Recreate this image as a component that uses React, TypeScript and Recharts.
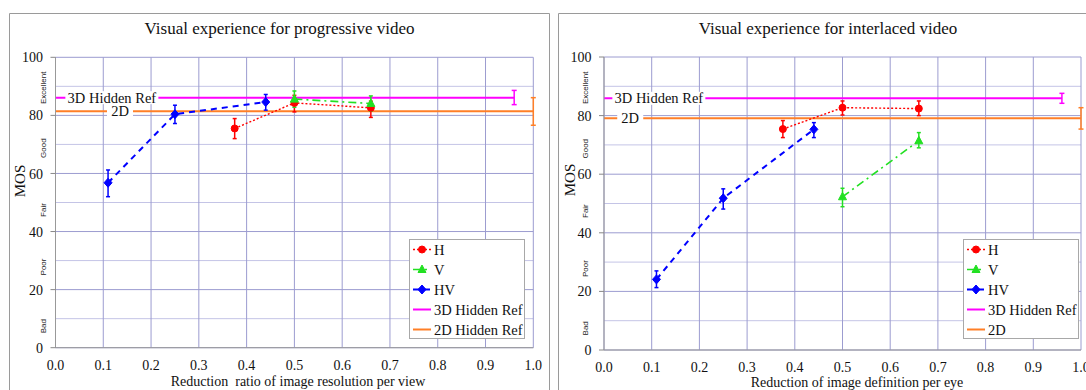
import React from 'react';
import {
  ComposedChart,
  Line,
  XAxis,
  YAxis,
  CartesianGrid,
  ErrorBar,
  ReferenceDot,
  Legend,
  LabelList,
} from 'recharts';

const SERIF = '"Liberation Serif", "Times New Roman", serif';
const SANS = '"Liberation Sans", Arial, sans-serif';

// ---------- axes ----------
const X_TICKS = [0, 0.1, 0.2, 0.3, 0.4, 0.5, 0.6, 0.7, 0.8, 0.9, 1.0];
const Y_MAJOR = [0, 20, 40, 60, 80, 100];
const Y_MINOR = [10, 30, 50, 70, 90];
const QUALITY_LABELS = ['Excellent', 'Good', 'Fair', 'Poor', 'Bad'];
const QUALITY_VALUES = [89.5, 68.7, 47.4, 27.8, 7.4];

// ---------- progressive video ----------
const PROG_TITLE = 'Visual experience for progressive video';
const PROG_XLABEL = 'Reduction  ratio of image resolution per view';
const PROG_LEGEND = ['H', 'V', 'HV', '3D Hidden Ref', '2D Hidden Ref'];

const PROG_H_X = [0.375, 0.5, 0.66];
const PROG_H_MOS = [75.5, 84.3, 82.6];
const PROG_H_LOW = [72.0, 81.2, 79.3];
const PROG_H_HIGH = [78.9, 86.9, 84.9];

const PROG_V_X = [0.5, 0.66];
const PROG_V_MOS = [85.6, 84.1];
const PROG_V_LOW = [82.8, 81.5];
const PROG_V_HIGH = [88.4, 86.7];

const PROG_HV_X = [0.11, 0.25, 0.44];
const PROG_HV_MOS = [56.8, 80.4, 84.6];
const PROG_HV_LOW = [52.0, 77.2, 81.8];
const PROG_HV_HIGH = [61.2, 83.5, 87.2];

// [mos, low, high, end x, label x]
const PROG_REF3D = [86.1, 83.7, 88.6, 0.96, 0.118];
const PROG_REF2D = [81.4, 76.6, 86.1, 1.0, 0.135];

// ---------- interlaced video ----------
const INT_TITLE = 'Visual experience for interlaced video';
const INT_XLABEL = 'Reduction of image definition per eye';
const INT_LEGEND = ['H', 'V', 'HV', '3D Hidden Ref', '2D'];

const INT_H_X = [0.375, 0.5, 0.66];
const INT_H_MOS = [75.4, 82.7, 82.4];
const INT_H_LOW = [72.5, 80.2, 80.0];
const INT_H_HIGH = [78.3, 85.0, 85.0];

const INT_V_X = [0.5, 0.66];
const INT_V_MOS = [52.3, 71.4];
const INT_V_LOW = [48.9, 69.0];
const INT_V_HIGH = [55.2, 74.2];

const INT_HV_X = [0.11, 0.25, 0.44];
const INT_HV_MOS = [24.1, 51.8, 75.3];
const INT_HV_LOW = [21.3, 48.1, 72.5];
const INT_HV_HIGH = [27.0, 55.0, 77.6];

const INT_REF3D = [85.9, 84.2, 87.6, 0.96, 0.115];
const INT_REF2D = [79.1, 75.4, 82.7, 1.0, 0.055];

// ---------- colours ----------
const RED = '#ff0000';
const GREEN = '#22e022';
const BLUE = '#0000ff';
const MAGENTA = '#ff00ff';
const ORANGE = '#ff7f27';

type Row = { x: number; y: number; err?: [number, number]; label?: string };

const seriesRows = (xs: number[], ys: number[], lo: number[], hi: number[]): Row[] =>
  xs.map((x, i) => ({
    x,
    y: ys[i],
    err: [+(ys[i] - lo[i]).toFixed(2), +(hi[i] - ys[i]).toFixed(2)],
  }));

const refRows = (ref: number[], label: string): Row[] => [
  { x: 0, y: ref[0] },
  { x: ref[4], y: ref[0], label },
  { x: ref[3], y: ref[0], err: [+(ref[0] - ref[1]).toFixed(2), +(ref[2] - ref[0]).toFixed(2)] },
];

type MarkerType = 'circle' | 'triangle' | 'diamond' | 'none';

function marker(type: MarkerType, color: string, cx: number, cy: number, key: string) {
  if (cx == null || cy == null) return <g key={key} />;
  if (type === 'circle') return <circle key={key} cx={cx} cy={cy} r={3.5} fill={color} stroke={color} />;
  if (type === 'triangle')
    return (
      <path key={key} d={`M${cx},${cy - 4.5}L${cx + 4},${cy + 3}L${cx - 4},${cy + 3}Z`} fill={color} stroke={color} />
    );
  if (type === 'diamond')
    return (
      <path key={key} d={`M${cx},${cy - 4.5}L${cx + 4},${cy}L${cx},${cy + 4.5}L${cx - 4},${cy}Z`} fill={color} stroke={color} />
    );
  return <g key={key} />;
}

const SERIES_STYLE = [
  { color: RED, dash: '2 2', width: 1.4, marker: 'circle' as MarkerType },
  { color: GREEN, dash: '8 4 2 4', width: 1.6, marker: 'triangle' as MarkerType },
  { color: BLUE, dash: '6 5', width: 2, marker: 'diamond' as MarkerType },
  { color: MAGENTA, dash: '', width: 2, marker: 'none' as MarkerType },
  { color: ORANGE, dash: '', width: 2, marker: 'none' as MarkerType },
];

const REF_BOX_W: Record<string, number> = { '3D Hidden Ref': 93, '2D': 26 };

const renderRefLabel = (props: any) => {
  const value = props.value;
  if (!value) return null;
  const x = props.x ?? props.viewBox?.x;
  const y = props.y ?? props.viewBox?.y;
  if (x == null || y == null) return null;
  const w = REF_BOX_W[value] ?? value.length * 7;
  return (
    <g>
      <rect x={x - w / 2} y={y - 6.5} width={w} height={13} fill="#ffffff" />
      <text x={x} y={y + 5} textAnchor="middle" fontFamily={SERIF} fontSize={14.5} fill="#111">
        {value}
      </text>
    </g>
  );
};

function LegendBox({ names }: { names: string[] }) {
  return (
    <div style={{ width: 116, height: 100, boxSizing: 'border-box', border: '1px solid #a8a8a8', background: '#fff' }}>
      <svg width={114} height={98} style={{ display: 'block' }}>
        {names.map((n, i) => {
          const s = SERIES_STYLE[i];
          const cy = 9.5 + i * 20;
          return (
            <g key={n}>
              <line x1={3} x2={21} y1={cy} y2={cy} stroke={s.color} strokeWidth={s.width} strokeDasharray={s.dash || undefined} />
              {marker(s.marker, s.color, 12, cy, 'm' + i)}
              <text x={24} y={cy + 5} fontFamily={SERIF} fontSize={14.5} fill="#111">
                {n}
              </text>
            </g>
          );
        })}
      </svg>
    </div>
  );
}

type PanelCfg = {
  key: string;
  left: number;
  width: number;
  margin: { top: number; right: number; bottom: number; left: number };
  H: Row[];
  V: Row[];
  HV: Row[];
  ref3d: Row[];
  ref2d: Row[];
  legend: string[];
  legendPos: { left: number; top: number };
  qualityOffset: number;
};

const PANELS: PanelCfg[] = [
  {
    key: 'prog',
    left: 0,
    width: 549,
    margin: { top: 57.3, right: 15.7, bottom: 12.3, left: 15.5 },
    H: seriesRows(PROG_H_X, PROG_H_MOS, PROG_H_LOW, PROG_H_HIGH),
    V: seriesRows(PROG_V_X, PROG_V_MOS, PROG_V_LOW, PROG_V_HIGH),
    HV: seriesRows(PROG_HV_X, PROG_HV_MOS, PROG_HV_LOW, PROG_HV_HIGH),
    ref3d: refRows(PROG_REF3D, '3D Hidden Ref'),
    ref2d: refRows(PROG_REF2D, '2D'),
    legend: PROG_LEGEND,
    legendPos: { left: 409, top: 239 },
    qualityOffset: 9.5,
  },
  {
    key: 'int',
    left: 549,
    width: 537,
    margin: { top: 57, right: 5, bottom: 10, left: 15 },
    H: seriesRows(INT_H_X, INT_H_MOS, INT_H_LOW, INT_H_HIGH),
    V: seriesRows(INT_V_X, INT_V_MOS, INT_V_LOW, INT_V_HIGH),
    HV: seriesRows(INT_HV_X, INT_HV_MOS, INT_HV_LOW, INT_HV_HIGH),
    ref3d: refRows(INT_REF3D, '3D Hidden Ref'),
    ref2d: refRows(INT_REF2D, '2D'),
    legend: INT_LEGEND,
    legendPos: { left: 414, top: 239 },
    qualityOffset: 16,
  },
];

const YTick = (p: any) => {
  const { x, y, payload } = p;
  return (
    <g>
      <line x1={x - 5} x2={x} y1={y} y2={y} stroke="#888" />
      <text x={x - 12.5} y={y} dy="0.36em" textAnchor="end" fontFamily={SERIF} fontSize={14} fill="#111">
        {payload.value}
      </text>
    </g>
  );
};

function Panel({ cfg }: { cfg: PanelCfg }) {
  const seriesData = [cfg.H, cfg.V, cfg.HV];
  return (
    <div style={{ position: 'absolute', left: cfg.left, top: 0, width: cfg.width, height: 390 }}>
      <ComposedChart width={cfg.width} height={390} margin={cfg.margin}>
        <CartesianGrid horizontalValues={Y_MINOR} vertical={false} stroke="#c4c4e6" />
        <CartesianGrid horizontalValues={Y_MAJOR} verticalValues={X_TICKS} stroke="#9c9cd0" />
        <XAxis
          type="number"
          dataKey="x"
          domain={[0, 1]}
          ticks={X_TICKS}
          interval={0}
          height={30}
          tickSize={0}
          tickMargin={12}
          tickLine={false}
          axisLine={{ stroke: '#999' }}
          tickFormatter={(v: number) => v.toFixed(1)}
          tick={{ fontFamily: SERIF, fontSize: 14, fill: '#111' }}
        />
        <YAxis
          type="number"
          dataKey="y"
          domain={[0, 100]}
          ticks={Y_MAJOR}
          interval={0}
          width={40}
          tickSize={0}
          tickMargin={0}
          tickLine={false}
          axisLine={{ stroke: '#999' }}
          tick={YTick}
        />
        {QUALITY_LABELS.map((q, i) => (
          <ReferenceDot
            key={q}
            x={0}
            y={QUALITY_VALUES[i]}
            ifOverflow="visible"
            shape={(p: any) => {
              const tx = p.cx - cfg.qualityOffset;
              return (
                <text
                  x={tx}
                  y={p.cy}
                  transform={`rotate(-90 ${tx} ${p.cy})`}
                  textAnchor="middle"
                  fontFamily={SANS}
                  fontSize={8}
                  fill="#222"
                >
                  {q}
                </text>
              );
            }}
          />
        ))}
        <Line
          data={cfg.ref3d}
          dataKey="y"
          stroke={MAGENTA}
          strokeWidth={2}
          dot={false}
          activeDot={false}
          isAnimationActive={false}
        >
          <ErrorBar dataKey="err" width={2.5} strokeWidth={1.5} stroke={MAGENTA} direction="y" />
          <LabelList dataKey="label" content={renderRefLabel} />
        </Line>
        <Line
          data={cfg.ref2d}
          dataKey="y"
          stroke={ORANGE}
          strokeWidth={2}
          dot={false}
          activeDot={false}
          isAnimationActive={false}
        >
          <ErrorBar dataKey="err" width={2.5} strokeWidth={1.5} stroke={ORANGE} direction="y" />
          <LabelList dataKey="label" content={renderRefLabel} />
        </Line>
        {seriesData.map((rows, si) => {
          const s = SERIES_STYLE[si];
          return (
            <Line
              key={cfg.key + si}
              data={rows}
              dataKey="y"
              stroke={s.color}
              strokeWidth={s.width}
              strokeDasharray={s.dash}
              dot={(p: any) => marker(s.marker, s.color, p.cx, p.cy, `${cfg.key}-${si}-${p.index}`)}
              activeDot={false}
              isAnimationActive={false}
            >
              <ErrorBar dataKey="err" width={2} strokeWidth={1.5} stroke={s.color} direction="y" />
            </Line>
          );
        })}
        <Legend
          layout="vertical"
          align="center"
          verticalAlign="middle"
          wrapperStyle={{
            position: 'absolute',
            left: cfg.legendPos.left,
            top: cfg.legendPos.top,
            width: 116,
            height: 100,
          }}
          content={() => <LegendBox names={cfg.legend} />}
        />
      </ComposedChart>
    </div>
  );
}

export default function App() {
  return (
    <div
      style={{
        position: 'absolute',
        left: 0,
        top: 0,
        width: 1086,
        height: 390,
        overflow: 'hidden',
        background: '#ffffff',
      }}
    >
      <svg width={1086} height={390} style={{ position: 'absolute', left: 0, top: 0 }}>
        <path d="M9.5,390 L9.5,13.5 L549.5,13.5 L549.5,390" fill="none" stroke="#9a9a9a" />
        <path d="M558.5,390 L558.5,13.5 L1090,13.5" fill="none" stroke="#9a9a9a" />
      </svg>
      {PANELS.map((p) => (
        <Panel key={p.key} cfg={p} />
      ))}
      <svg width={1086} height={390} style={{ position: 'absolute', left: 0, top: 0, pointerEvents: 'none' }}>
        <text x={279.5} y={34} textAnchor="middle" fontFamily={SERIF} fontSize={17} fill="#111">
          {PROG_TITLE}
        </text>
        <text x={828} y={34} textAnchor="middle" fontFamily={SERIF} fontSize={17} fill="#111">
          {INT_TITLE}
        </text>
        <text x={298} y={386} textAnchor="middle" fontFamily={SERIF} fontSize={14} fill="#111" style={{ whiteSpace: 'pre' }}>
          {PROG_XLABEL}
        </text>
        <text x={857} y={387} textAnchor="middle" fontFamily={SERIF} fontSize={14} fill="#111">
          {INT_XLABEL}
        </text>
        <text x={25} y={181} transform="rotate(-90 25 181)" textAnchor="middle" fontFamily={SERIF} fontSize={15} fill="#111">
          MOS
        </text>
        <text x={575} y={180} transform="rotate(-90 575 180)" textAnchor="middle" fontFamily={SERIF} fontSize={15} fill="#111">
          MOS
        </text>
      </svg>
    </div>
  );
}
